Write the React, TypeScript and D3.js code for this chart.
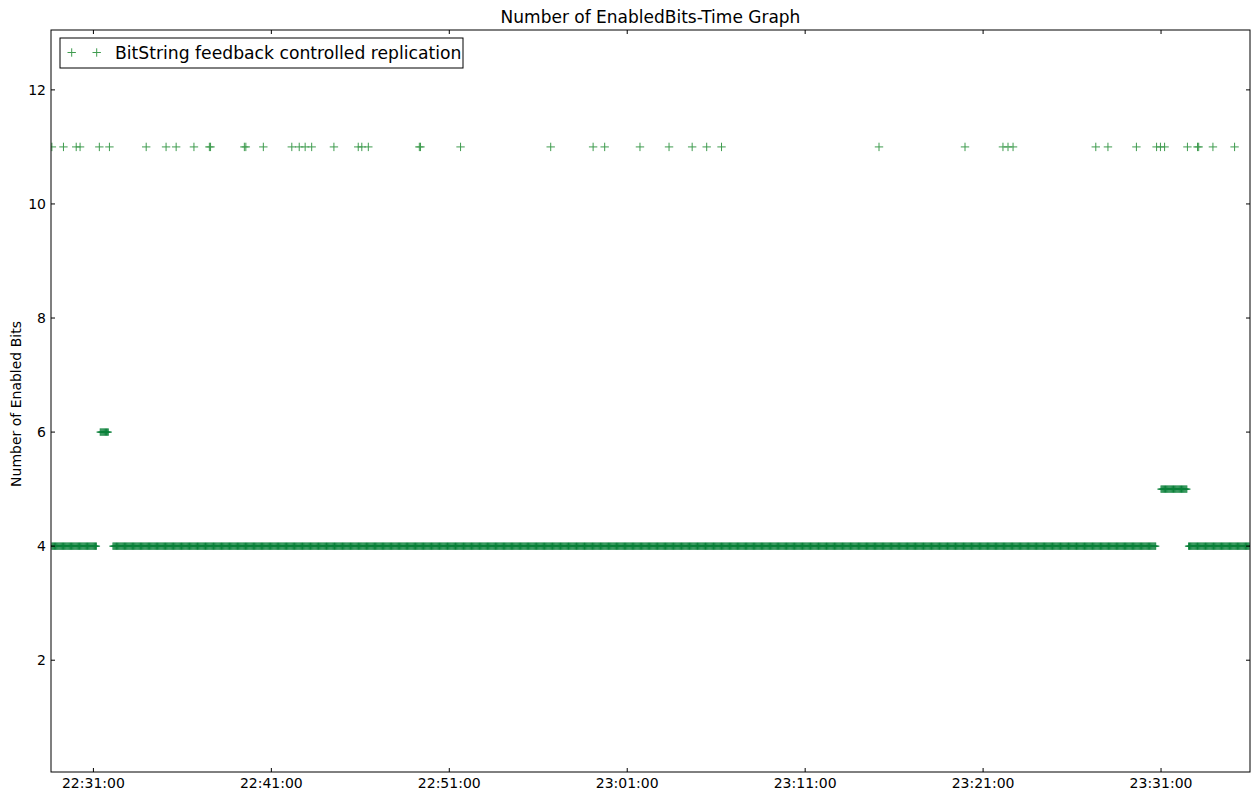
import React from "react";
import * as d3 from "d3";

// ---- data ----
const title = "Number of EnabledBits-Time Graph";
const yLabel = "Number of Enabled Bits";
const seriesName = "BitString feedback controlled replication";

// Isolated samples at value 11
const elevenTimes = [
  "22:28:40", "22:29:19", "22:30:02", "22:30:15", "22:31:20", "22:31:54",
  "22:33:58", "22:35:05", "22:35:39", "22:36:39", "22:37:31", "22:37:35",
  "22:39:29", "22:39:34", "22:40:33", "22:42:09", "22:42:34", "22:42:54",
  "22:43:16", "22:44:31", "22:45:53", "22:46:05", "22:46:27", "22:49:19",
  "22:49:23", "22:51:38", "22:56:42", "22:59:05", "22:59:44", "23:01:43",
  "23:03:21", "23:04:39", "23:05:28", "23:06:18", "23:15:09", "23:19:59",
  "23:22:07", "23:22:24", "23:22:41", "23:27:20", "23:28:01", "23:29:37",
  "23:30:45", "23:30:58", "23:31:12", "23:32:29", "23:33:03", "23:33:07",
  "23:33:55", "23:35:08",
];

// Dense runs of regularly sampled values
const runStart = ["22:28:40", "22:31:23", "22:32:06", "23:31:00", "23:32:33"];
const runEnd = ["22:31:11", "22:31:50", "23:30:44", "23:32:29", "23:35:58"];
const runValue = [4, 6, 4, 5, 4];
const samplePeriodSec = 3;

const xTickLabels = ["22:31:00", "22:41:00", "22:51:00", "23:01:00", "23:11:00", "23:21:00", "23:31:00"];
const yTicks = [2, 4, 6, 8, 10, 12];
const xDomain = ["22:28:37", "23:36:00"];
const yDomain = [0.04, 13.05];

const parse = d3.timeParse("%H:%M:%S");
const fmt = d3.timeFormat("%H:%M:%S");

export default function App() {
  const W = 1258, H = 794;
  const L = 51, R = 1250, T = 30, B = 772;
  const green = "#0b803a";
  const lightGreen = "#3f9c4f";
  const font = "'DejaVu Sans', sans-serif";

  const x = d3.scaleTime()
    .domain(xDomain.map((s) => parse(s) as Date))
    .range([L, R]);
  const y = d3.scaleLinear().domain(yDomain).range([B, T]);

  type Pt = { t: Date; v: number };
  const dense: Pt[] = [];
  runStart.forEach((s, i) => {
    const a = (parse(s) as Date).getTime();
    const b = (parse(runEnd[i]) as Date).getTime();
    for (let t = a; t <= b; t += samplePeriodSec * 1000) {
      dense.push({ t: new Date(t), v: runValue[i] });
    }
  });
  const sparse: Pt[] = elevenTimes.map((s) => ({ t: parse(s) as Date, v: 11 }));

  const plus = (cx: number, cy: number, h: number) =>
    `M${cx - h},${cy}H${cx + h}M${cx},${cy - h}V${cy + h}`;
  const densePath = dense.map((p) => plus(x(p.t), y(p.v), 3.7)).join("");
  const sparsePath = sparse.map((p) => plus(x(p.t), y(p.v), 4.2)).join("");

  const xTicks = xTickLabels.map((s) => parse(s) as Date);

  return (
    <svg
      width={W}
      height={H}
      style={{ position: "absolute", left: 0, top: 0, background: "#fff" }}
      fontFamily={font}
    >
      <defs>
        <clipPath id="plotclip">
          <rect x={L} y={T} width={R - L} height={B - T} />
        </clipPath>
      </defs>
      <rect x={0} y={0} width={W} height={H} fill="#fff" />
      <text x={(L + R) / 2} y={23} textAnchor="middle" fontSize={17} fill="#000">
        {title}
      </text>

      <g clipPath="url(#plotclip)">
        <path d={densePath} stroke={green} strokeWidth={1} fill="none" />
        <path d={sparsePath} stroke={lightGreen} strokeWidth={1} fill="none" />
      </g>

      {/* ticks */}
      {xTicks.map((t, i) => (
        <g key={"xt" + i}>
          <line x1={x(t)} x2={x(t)} y1={B} y2={B - 4} stroke="#000" />
          <line x1={x(t)} x2={x(t)} y1={T} y2={T + 4} stroke="#000" />
          <text x={x(t)} y={788} textAnchor="middle" fontSize={14} fill="#000">
            {fmt(t)}
          </text>
        </g>
      ))}
      {yTicks.map((v) => (
        <g key={"yt" + v}>
          <line x1={L} x2={L + 4} y1={y(v)} y2={y(v)} stroke="#000" />
          <line x1={R} x2={R - 4} y1={y(v)} y2={y(v)} stroke="#000" />
          <text x={46} y={y(v) + 5} textAnchor="end" fontSize={14} fill="#000">
            {v}
          </text>
        </g>
      ))}

      <rect x={L} y={T} width={R - L} height={B - T} fill="none" stroke="#000" strokeWidth={1} />

      <text
        transform={`translate(21,404) rotate(-90)`}
        textAnchor="middle"
        fontSize={14}
        fill="#000"
      >
        {yLabel}
      </text>

      {/* legend */}
      <g>
        <rect x={60} y={38} width={403} height={30} fill="#fff" stroke="#000" strokeWidth={1} />
        <path d={plus(71.7, 52.5, 4.2) + plus(96.7, 52.5, 4.2)} stroke={lightGreen} strokeWidth={1} fill="none" />
        <text x={115} y={58.5} fontSize={17.2} fill="#000">
          {seriesName}
        </text>
      </g>
    </svg>
  );
}
